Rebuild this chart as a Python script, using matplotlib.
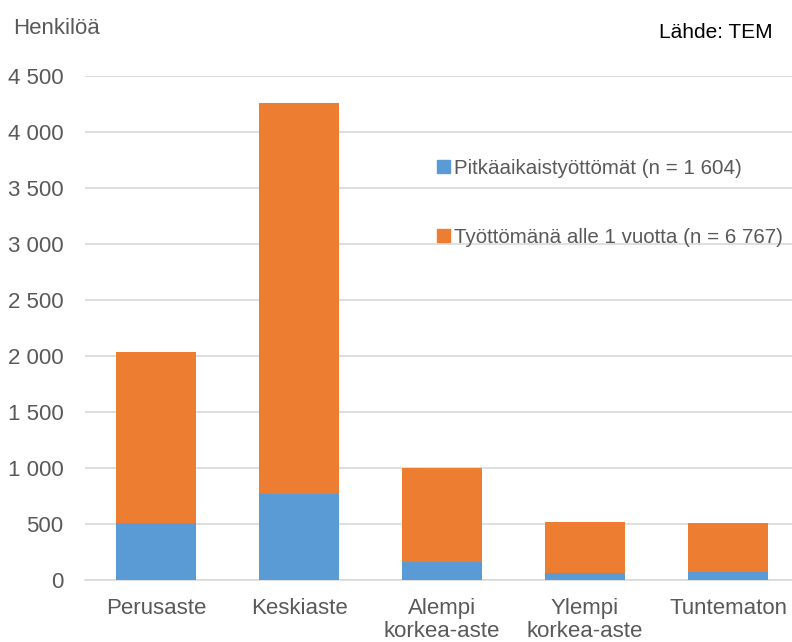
import matplotlib.pyplot as plt
from matplotlib.patches import Patch
from matplotlib.ticker import FuncFormatter

plt.rcParams['font.family'] = ['Liberation Sans', 'DejaVu Sans']

# --- Data ---
categories = ['Perusaste', 'Keskiaste', 'Alempi\nkorkea-aste',
              'Ylempi\nkorkea-aste', 'Tuntematon']
long_term = [510, 770, 158, 58, 70]          # Pitkäaikaistyöttömät
short_term = [1526, 3490, 842, 462, 442]     # Työttömänä alle 1 vuotta
yticks = [0, 500, 1000, 1500, 2000, 2500, 3000, 3500, 4000, 4500]
label_long = 'Pitkäaikaistyöttömät (n = 1 604)'
label_short = 'Työttömänä alle 1 vuotta (n = 6 767)'

blue = '#5B9BD5'
orange = '#ED7D31'
grey_text = '#595959'
fs = 16

fig = plt.figure(figsize=(7.92, 6.42), dpi=100)
ax = fig.add_axes([0.1067, 0.0966, 0.8933, 0.785])

x = range(len(categories))
ax.bar(x, long_term, width=0.56, color=blue, zorder=3)
ax.bar(x, short_term, width=0.56, bottom=long_term, color=orange, zorder=3)

ax.set_xlim(-0.5, 4.447)
ax.set_ylim(0, 4500)
ax.set_yticks(yticks)
ax.yaxis.set_major_formatter(
    FuncFormatter(lambda v, p: f'{int(v):,}'.replace(',', ' ')))
ax.set_xticks(list(x))
ax.set_xticklabels(categories)

ax.grid(axis='y', color='#D9D9D9', linewidth=1.2, zorder=0)
for s in ['top', 'right', 'left']:
    ax.spines[s].set_visible(False)
ax.spines['bottom'].set_color('#D9D9D9')
ax.spines['bottom'].set_linewidth(1.2)
ax.tick_params(axis='both', length=0, labelsize=fs, colors=grey_text)
ax.tick_params(axis='y', pad=15)
ax.tick_params(axis='x', pad=13)
for lbl in ax.get_xticklabels():
    lbl.set_linespacing(1.1)

fig.text(0.016, 0.955, 'Henkilöä', fontsize=fs, color=grey_text,
         va='center', ha='left')
fig.text(0.976, 0.949, 'Lähde: TEM', fontsize=15, color='black',
         va='center', ha='right')

handles = [Patch(color=blue, label=label_long),
           Patch(color=orange, label=label_short)]
leg = fig.legend(handles=handles, loc='upper left',
                 bbox_to_anchor=(0.5391, 0.769), frameon=False,
                 fontsize=14.8, handlelength=0.6, handleheight=0.6,
                 handletextpad=0.2, labelspacing=2.45, borderpad=0)
for t in leg.get_texts():
    t.set_color(grey_text)

fig.savefig('out.png', dpi=100)
